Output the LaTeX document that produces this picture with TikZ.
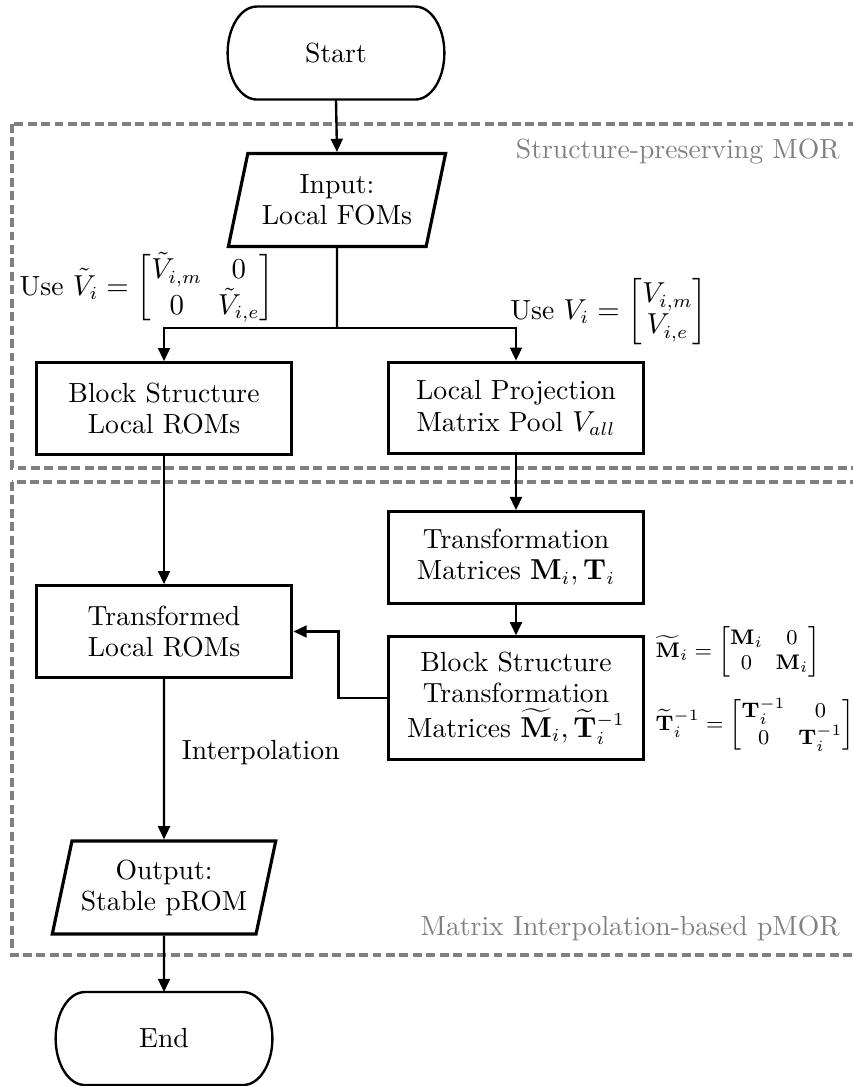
\documentclass[tikz,border=0pt]{standalone}
\usepackage{amsmath}
\usepackage{amssymb}
\usepackage{tikz}
\usetikzlibrary{
  shapes.geometric,
  arrows.meta,
  positioning,
  calc
}
\definecolor{linecolor}{RGB}{0, 0, 0}
\definecolor{groupcolor}{RGB}{128, 128, 128}
\definecolor{grouptextcolor}{RGB}{128, 128, 128}
\newcommand{\boxfont}{\fontsize{10.5}{11.8}\selectfont}
\tikzset{
blocktext/.style={
  align=center,
  font=\boxfont,
  text=linecolor
},
procblock/.style={
  draw=linecolor,
  line width=1.2pt,
  minimum width=3.41cm,
  minimum height=1.22cm,
  blocktext
},
ioblock/.style={
  trapezium,
  trapezium left angle=75,
  trapezium right angle=105,
  trapezium stretches=true,
  draw=linecolor,
  line width=1.2pt,
  minimum width=2.9cm,
  minimum height=1.24cm,
  blocktext
},
terminal/.style={
  minimum width=2.89cm,
  minimum height=1.24cm,
  outer sep=0pt,
  blocktext
},
termline/.style={
  draw=linecolor,
  line width=0.9pt
},
groupbox/.style={
  draw=groupcolor,
  line width=1.2pt,
  dash pattern=on 3.4pt off 1.7pt
},
grouplabel/.style={
  font=\boxfont,
  text=grouptextcolor,
  anchor=east
},
mathlabel/.style={
  font=\boxfont,
  inner sep=1pt
},
arrow/.style={
  -{Triangle[length=5pt,width=4.5pt]},
  line width=0.9pt,
  draw=linecolor
},
plainline/.style={
  line width=0.9pt,
  draw=linecolor
}
}

% start/end outline: flat top and bottom, half-ellipse sides
\newcommand{\termoutline}[1]{%
  \draw[termline] ([xshift=0.39cm]#1.north west) -- ([xshift=-0.39cm]#1.north east)
    arc[start angle=90, end angle=-90, x radius=0.39cm, y radius=0.62cm]
    -- ([xshift=0.39cm]#1.south west)
    arc[start angle=270, end angle=90, x radius=0.39cm, y radius=0.62cm] -- cycle;}

% compact matrices next to the branches, smaller ones beside the transforms
\newcommand{\usemath}[1]{{\setlength{\arraycolsep}{3pt}$#1$}}
\newcommand{\sidemath}[1]{{\footnotesize\setlength{\arraycolsep}{2.4pt}$#1$}}

\begin{document}
\begin{tikzpicture}

\useasboundingbox (0, 0) rectangle (11.373, -14.48);

% ============================================================================
% GROUPS
% ============================================================================
\draw[groupbox] (0.16, -1.653) rectangle (11.6, -6.24);
\draw[groupbox] (0.16, -6.427) rectangle (11.6, -12.733);
\node[grouplabel] (morlabel) at (11.32, -2.027) {Structure-preserving MOR};
\node[grouplabel] (pmorlabel) at (11.32, -12.373) {Matrix Interpolation-based pMOR};

% ============================================================================
% NODES
% ============================================================================
\node[terminal] (start) at (4.48, -0.707) {Start};
\termoutline{start}

\node[ioblock] (input) at (4.493, -2.667) {Input:\\Local FOMs};
\coordinate (fork) at (4.493, -4.373);

\node[procblock] (blockrom) at (2.187, -5.447) {Block Structure\\Local ROMs};
\node[procblock] (pool) at (6.88, -5.44) {Local Projection\\Matrix Pool $V_{all}$};

\node[procblock] (transmat) at (6.88, -7.433) {Transformation\\Matrices $\mathbf{M}_i, \mathbf{T}_i$};
\node[procblock, minimum height=1.63cm] (blocktrans) at (6.88, -9.307)
  {Block Structure\\Transformation\\[1.5pt]Matrices $\widetilde{\mathbf{M}}_i, \widetilde{\mathbf{T}}_i^{-1}$};

\node[procblock] (transrom) at (2.187, -8.42) {Transformed\\Local ROMs};

\node[ioblock] (output) at (2.187, -11.833) {Output:\\Stable pROM};

\node[terminal] (end) at (2.187, -13.847) {End};
\termoutline{end}

% ============================================================================
% LABELS
% ============================================================================
\node[mathlabel] (usetilde) at (1.96, -3.84)
  {Use \usemath{\tilde{V}_i = \begin{bmatrix} \tilde{V}_{i,m} & 0 \\ 0 & \tilde{V}_{i,e} \end{bmatrix}}};
\node[mathlabel] (usev) at (8.12, -4.16)
  {Use \usemath{V_i = \begin{bmatrix} V_{i,m} \\ V_{i,e} \end{bmatrix}}};
\node[mathlabel, anchor=west] (mtilde) at (8.7, -8.693)
  {\sidemath{\widetilde{\mathbf{M}}_i = \begin{bmatrix} \mathbf{M}_i & 0 \\ 0 & \mathbf{M}_i \end{bmatrix}}};
\node[mathlabel, anchor=west] (ttilde) at (8.7, -9.667)
  {\sidemath{\widetilde{\mathbf{T}}_i^{-1} = \begin{bmatrix} \mathbf{T}_i^{-1} & 0 \\ 0 & \mathbf{T}_i^{-1} \end{bmatrix}}};

% ============================================================================
% CONNECTORS
% ============================================================================
\draw[arrow] (start.south) -- (input.north);
\draw[plainline] (input.south) -- (fork);
\draw[arrow] (fork) -| (blockrom.north);
\draw[arrow] (fork) -| (pool.north);
\draw[arrow] (pool.south) -- (transmat.north);
\draw[arrow] (transmat.south) -- (blocktrans.north);
\draw[arrow] (blockrom.south) -- (transrom.north);
\draw[arrow] (blocktrans.west) -- ++(-0.64, 0) |- (transrom.east);
\draw[arrow] (transrom.south) -- node[pos=0.46, right, xshift=3pt, font=\boxfont] (interp) {Interpolation} (output.north);
\draw[arrow] (output.south) -- (end.north);

\end{tikzpicture}
\end{document}
